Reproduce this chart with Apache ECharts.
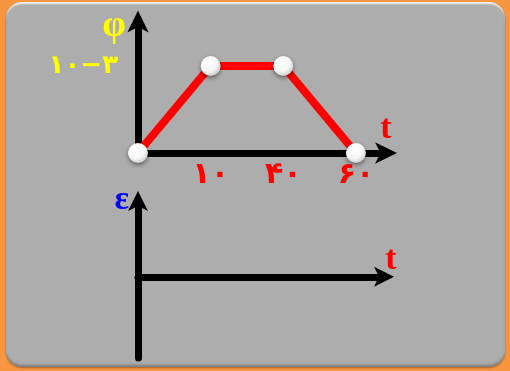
<!DOCTYPE html>
<html>
<head>
<meta charset="utf-8">
<script src="https://cdn.jsdelivr.net/npm/echarts@6/dist/echarts.min.js"></script>
<style>
  html, body { margin: 0; padding: 0; }
  body { width: 510px; height: 371px; background: #f7963f; position: relative; overflow: hidden; }
  .panel {
    position: absolute; left: 6px; top: 2px; width: 499px; height: 365px;
    border-radius: 16px; background: #adadad;
    box-shadow: inset 0 3px 2px -1px #f4f4f4, inset 0 -3px 3px -1px #7a7a7a, 0 1px 2px rgba(0,0,0,0.35);
  }
  #chart { position: absolute; left: 0; top: 0; width: 510px; height: 371px; }
</style>
</head>
<body>
<div class="panel"></div>
<div id="chart"></div>
<script>
// top graph: phi against t (points evenly placed, as drawn)
const tLabels = ['', '۱۰', '۴۰', '۶۰']
const phiValues = [0, 1, 1, 0]
const phiTick = '۱۰−۳'

const chart = echarts.init(document.getElementById('chart'))

const axisBlack = { color: '#000', width: 7 }

const option = {
  backgroundColor: 'transparent',
  animation: false,
  grid: [
    { left: 138, right: 125, top: 22.5, height: 130.5 },
    { left: 138, right: 128, top: 203, height: 155 }
  ],
  xAxis: [
    {
      gridIndex: 0,
      type: 'value',
      min: 0,
      max: 3.4,
      interval: 1,
      name: 't',
      nameGap: 1,
      nameTextStyle: {
        color: '#ff0000', fontSize: 34, fontWeight: 'bold', fontFamily: 'Liberation Serif',
        align: 'center', verticalAlign: 'bottom', padding: [0, 0, 7, 0]
      },
      axisLine: { lineStyle: axisBlack, symbol: ['none', 'arrow'], symbolSize: [16, 22], symbolOffset: [0, 12] },
      axisTick: { show: false },
      splitLine: { show: false },
      axisLabel: {
        color: '#ff0000', fontSize: 30, fontWeight: 'bold', fontFamily: 'DejaVu Sans',
        margin: 7,
        formatter: v => tLabels[v] || ''
      }
    },
    {
      gridIndex: 1,
      type: 'value',
      min: 0,
      max: 1,
      name: 't',
      nameGap: 9,
      nameTextStyle: {
        color: '#ff0000', fontSize: 34, fontWeight: 'bold', fontFamily: 'Liberation Serif',
        align: 'center', verticalAlign: 'bottom', padding: [0, 0, 0, 0]
      },
      axisLine: { onZero: true, lineStyle: axisBlack, symbol: ['none', 'arrow'], symbolSize: [15, 20], symbolOffset: [0, 12] },
      axisTick: { show: false },
      axisLabel: { show: false },
      splitLine: { show: false }
    }
  ],
  yAxis: [
    {
      gridIndex: 0,
      type: 'value',
      min: 0,
      max: 1.5,
      interval: 0.5,
      name: 'φ',
      nameGap: -4,
      nameTextStyle: {
        color: '#ffff00', fontSize: 38, fontWeight: 'bold', fontFamily: 'Liberation Serif',
        align: 'right', verticalAlign: 'middle', padding: [0, 12, 0, 0]
      },
      axisLine: { lineStyle: axisBlack, symbol: ['none', 'arrow'], symbolSize: [16, 22], symbolOffset: [0, 12] },
      axisTick: { show: false },
      splitLine: { show: false },
      axisLabel: {
        color: '#ffff00', fontSize: 26, fontWeight: 'bold', fontFamily: 'DejaVu Sans',
        margin: 20,
        formatter: v => (v === 1 ? phiTick : '')
      }
    },
    {
      gridIndex: 1,
      type: 'value',
      min: -1.1,
      max: 1,
      name: 'ε',
      nameGap: 3,
      nameTextStyle: {
        color: '#0000ff', fontSize: 34, fontWeight: 'bold', fontFamily: 'Liberation Serif',
        align: 'right', verticalAlign: 'middle', padding: [0, 9, 0, 0]
      },
      axisLine: { lineStyle: axisBlack, symbol: ['none', 'arrow'], symbolSize: [15, 20], symbolOffset: [0, 12] },
      axisTick: { show: false },
      axisLabel: { show: false },
      splitLine: { show: false }
    }
  ],
  series: [
    {
      type: 'line',
      xAxisIndex: 0,
      yAxisIndex: 0,
      data: phiValues.map((v, i) => [i, v]),
      lineStyle: { color: '#ff0000', width: 8 },
      symbol: 'circle',
      symbolSize: 20,
      itemStyle: {
        color: new echarts.graphic.RadialGradient(0.4, 0.35, 0.7, [
          { offset: 0, color: '#ffffff' },
          { offset: 0.6, color: '#f6f6f6' },
          { offset: 1, color: '#c8c8c8' }
        ]),
        shadowColor: 'rgba(0,0,0,0.45)',
        shadowBlur: 4,
        shadowOffsetY: 2
      },
      z: 5
    },
    {
      type: 'line',
      xAxisIndex: 1,
      yAxisIndex: 1,
      data: []
    }
  ]
}

chart.setOption(option)
</script>
</body>
</html>
